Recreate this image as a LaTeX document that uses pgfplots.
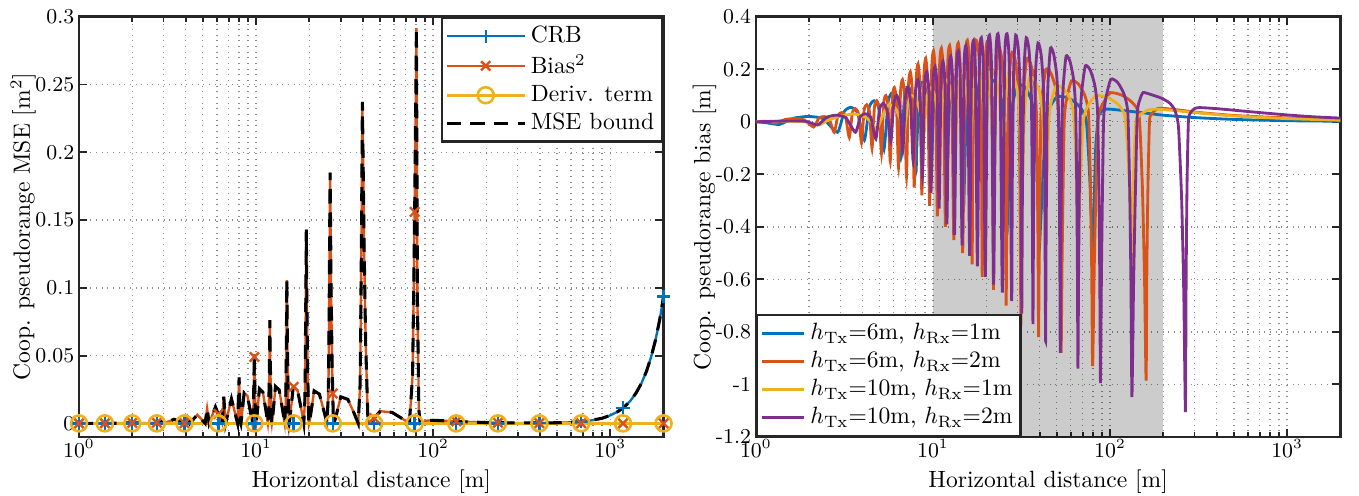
\documentclass[border=0pt]{standalone}
\usepackage{pgfplots}
\usepackage{pgfplotstable}
\pgfplotsset{compat=1.18}

\definecolor{mblue}{rgb}{0,0.447,0.741}
\definecolor{mred}{rgb}{0.85,0.325,0.098}
\definecolor{myellow}{rgb}{0.929,0.694,0.125}
\definecolor{mpurple}{rgb}{0.494,0.184,0.556}
\definecolor{axgray}{rgb}{0.15,0.15,0.15}

% ---------- left panel: MSE terms for hTx=6m, hRx=1m ----------
\pgfplotstableread{
d b2 mse
1 0 0
1.15 0 0
1.36 0.0001 0.0001
1.489 0 0
1.982 0.0004 0.0004
2.680 0 0
2.89 0.0016 0.0016
3.014 0 0
3.442 0.003 0.003
3.959 0 0
4.10 0.0049 0.0049
4.227 0 0
4.657 0.0064 0.0064
5.157 0 0
5.29 0.011 0.011
5.429 0 0
5.896 0.0121 0.0121
6.429 0 0
6.57 0.0196 0.0196
6.729 0 0
7.259 0.0182 0.0182
7.862 0 0
8.02 0.0339 0.0339
8.067 0.019 0.019
8.115 0.0085 0.0085
8.180 0.0008 0.0008
8.21 0 0
8.294 0.0046 0.0046
8.560 0.0225 0.0225
8.940 0.0203 0.0203
9.299 0.0081 0.0081
9.522 0.0001 0.0001
9.636 0.0062 0.0062
9.713 0.0289 0.0289
9.77 0.0511 0.0511
9.830 0.0289 0.0289
9.889 0.0128 0.0128
9.969 0.0012 0.0012
10.0 0 0
10.112 0.0052 0.0052
10.444 0.0256 0.0256
10.920 0.0231 0.0231
11.370 0.0092 0.0092
11.650 0.0001 0.0001
11.792 0.0094 0.0094
11.888 0.0428 0.0428
11.96 0.0762 0.0762
12.04 0.0428 0.0428
12.12 0.019 0.019
12.23 0.0017 0.0017
12.27 0 0
12.42 0.0055 0.0055
12.87 0.0272 0.0272
13.51 0.0246 0.0246
14.12 0.0098 0.0098
14.50 0.0001 0.0001
14.69 0.013 0.013
14.82 0.0595 0.0595
14.92 0.1056 0.1056
15.03 0.0595 0.0595
15.15 0.0264 0.0264
15.30 0.0024 0.0024
15.36 0 0
15.58 0.0055 0.0055
16.22 0.0272 0.0272
17.14 0.0246 0.0246
18.03 0.0098 0.0098
18.59 0.0001 0.0001
18.87 0.0174 0.0174
19.06 0.0804 0.0804
19.21 0.1429 0.1429
19.39 0.0804 0.0804
19.57 0.0357 0.0357
19.81 0.0032 0.0032
19.9 0 0
20.25 0.0049 0.0049
21.27 0.024 0.024
22.77 0.0216 0.0216
24.22 0.0086 0.0086
25.14 0.0001 0.0001
25.61 0.0225 0.0225
25.93 0.104 0.104
26.17 0.1849 0.1849
26.50 0.104 0.104
26.84 0.0462 0.0462
27.29 0.0042 0.0042
27.45 0 0
28.11 0.004 0.004
30.07 0.0196 0.0196
32.98 0.0177 0.0177
35.87 0.0071 0.0071
37.73 0 0
38.69 0.0289 0.0289
39.35 0.1332 0.1332
39.85 0.2372 0.2372
40.70 0.1332 0.1332
41.56 0.0593 0.0593
42.75 0.0053 0.0053
43.3 0 0
44.90 0.0018 0.0018
50.24 0.009 0.009
58.62 0.0081 0.0081
67.46 0.0032 0.0032
73.39 0 0
76.55 0.0357 0.0357
78.73 0.164 0.164
80.4 0.2916 0.2916
81.5 0.09 0.09
83 0.01 0.01
84.5 0 0
86 0.0004 0.0004
92 0.002 0.002
100 0.0023 0.0023
150 0.0012 0.0012
200 0.0006 0.0006
300 0.0003 0.00035
400 0.0002 0.00035
500 0.0001 0.00047
600 0.0001 0.0009
700 0.0001 0.0015
800 0.0001 0.0025
900 0 0.0038
1000 0 0.0059
1100 0 0.0086
1200 0 0.0121
1300 0 0.0167
1400 0 0.0225
1500 0 0.0296
1600 0 0.0383
1700 0 0.0489
1800 0 0.0614
1900 0 0.0762
2000 0 0.0936
}\lefttab

\pgfplotstableread{
d crb
1 0
200 0
300 0.00005
400 0.00015
500 0.00037
600 0.0008
700 0.0014
800 0.0024
900 0.0038
1000 0.0059
1100 0.0086
1200 0.0121
1300 0.0167
1400 0.0225
1500 0.0296
1600 0.0383
1700 0.0489
1800 0.0614
1900 0.0762
2000 0.0936
}\crbtab

\pgfplotstableread{
d crb b2 dv
1 0 0 0
1.4 0 0.0001 0
2 0 0.0004 0
2.75 0 0.0005 0
3.94 0 0.0001 0
6.12 0 0.007 0
9.78 0 0.049 0
16.3 0 0.027 0
27.1 0 0.022 0
46.4 0 0.004 0
78.6 0 0.156 0
135 0 0.0015 0
232 0 0.0005 0
398 0.0001 0.0002 0
686 0.0013 0.0001 0
1180 0.0114 0 0
2000 0.0936 0 0
}\marktab

% ---------- right panel: bias for four height pairs ----------
\pgfplotstableread{
d v
1 0
1.15 -0.004
1.36 -0.01
1.642 0.014
1.982 0.02
2.394 0.012
2.89 -0.04
3.154 0.0385
3.442 0.055
3.757 0.033
4.10 -0.07
4.370 0.056
4.657 0.08
4.963 0.048
5.29 -0.105
5.585 0.077
5.896 0.11
6.224 0.066
6.57 -0.14
6.906 0.0945
7.259 0.135
7.630 0.081
8.02 -0.184
8.067 -0.138
8.115 -0.092
8.180 -0.028
8.294 0.0675
8.560 0.15
8.940 0.1425
9.299 0.09
9.522 0.0075
9.636 -0.079
9.713 -0.17
9.77 -0.226
9.830 -0.17
9.889 -0.113
9.969 -0.034
10.112 0.072
10.444 0.16
10.920 0.152
11.370 0.096
11.650 0.008
11.792 -0.097
11.888 -0.207
11.96 -0.276
12.04 -0.207
12.12 -0.138
12.23 -0.041
12.42 0.074
12.87 0.165
13.51 0.157
14.12 0.099
14.50 0.008
14.69 -0.114
14.82 -0.244
14.92 -0.325
15.03 -0.244
15.15 -0.1625
15.30 -0.049
15.58 0.074
16.22 0.165
17.14 0.157
18.03 0.099
18.59 0.008
18.87 -0.132
19.06 -0.2835
19.21 -0.378
19.39 -0.2835
19.57 -0.189
19.81 -0.057
20.25 0.07
21.27 0.155
22.77 0.147
24.22 0.093
25.14 0.008
25.61 -0.15
25.93 -0.3225
26.17 -0.43
26.50 -0.3225
26.84 -0.215
27.29 -0.0645
28.11 0.063
30.07 0.14
32.98 0.133
35.87 0.084
37.73 0.007
38.69 -0.17
39.35 -0.365
39.85 -0.487
40.70 -0.365
41.56 -0.2435
42.75 -0.073
44.90 0.043
50.24 0.095
58.62 0.09
67.46 0.057
73.39 0.005
76.55 -0.189
78.73 -0.405
80.4 -0.54
81.5 -0.3
83 -0.1
86 0.02
92 0.045
100 0.048
150 0.035
200 0.025
300 0.016
500 0.009
1000 0.004
2000 0.002
}\biasA

\pgfplotstableread{
d v
1 0
1.15 0.002
1.29 -0.005
1.461 0.0084
1.654 0.012
1.872 0.0072
2.12 -0.02
2.267 0.014
2.423 0.02
2.591 0.012
2.77 -0.04
2.909 0.0245
3.055 0.035
3.209 0.021
3.37 -0.06
3.506 0.035
3.648 0.05
3.796 0.03
3.95 -0.08
4.088 0.0455
4.230 0.065
4.377 0.039
4.53 -0.10
4.671 0.056
4.816 0.08
4.965 0.048
5.12 -0.12
5.268 0.07
5.421 0.10
5.578 0.06
5.74 -0.15
5.896 0.091
6.056 0.13
6.220 0.078
6.39 -0.175
6.558 0.112
6.731 0.16
6.908 0.096
7.09 -0.21
7.271 0.133
7.456 0.19
7.646 0.114
7.84 -0.25
8.038 0.154
8.240 0.22
8.448 0.132
8.66 -0.28
8.881 0.168
9.109 0.24
9.341 0.144
9.58 -0.32
9.825 0.189
10.077 0.27
10.336 0.162
10.60 -0.36
10.881 0.196
11.169 0.28
11.466 0.168
11.77 -0.40
12.094 0.203
12.427 0.29
12.769 0.174
13.12 -0.45
13.503 0.21
13.897 0.30
14.303 0.18
14.72 -0.50
15.176 0.217
15.646 0.31
16.130 0.186
16.63 -0.54
16.763 -0.189
17.076 0.186
17.533 0.31
18.122 0.2635
18.609 0.1085
18.830 -0.2065
18.98 -0.59
19.147 -0.2065
19.544 0.18
20.124 0.30
20.874 0.255
21.495 0.105
21.778 -0.224
21.97 -0.64
22.188 -0.224
22.706 0.171
23.468 0.285
24.455 0.242
25.277 0.10
25.654 -0.245
25.91 -0.70
26.208 -0.245
26.920 0.159
27.970 0.265
29.340 0.225
30.483 0.093
31.012 -0.266
31.37 -0.76
31.587 -0.456
31.806 -0.228
32.101 0.012
32.624 0.132
33.849 0.24
35.611 0.221
37.289 0.156
38.334 0.048
38.870 -0.205
39.228 -0.492
39.5 -0.82
39.848 -0.492
40.20 -0.246
40.677 0.01
41.518 0.11
43.513 0.20
46.41 0.184
49.22 0.13
50.98 0.04
51.88 -0.22
52.49 -0.528
52.96 -0.88
53.62 -0.528
54.28 -0.264
55.17 0.008
56.78 0.086
60.62 0.156
66.34 0.1435
72.0 0.101
75.62 0.031
77.50 -0.2325
78.78 -0.558
79.75 -0.93
81.43 -0.558
83.15 -0.279
85.49 0.0055
89.76 0.0605
100.32 0.11
116.90 0.101
134.34 0.0715
146.03 0.022
152.24 -0.246
156.54 -0.591
159.85 -0.985
161.5 -0.55
163.5 -0.27
167 0.0
172 0.03
185 0.05
200 0.051
250 0.044
320 0.035
500 0.024
760 0.018
1200 0.013
2000 0.0095
}\biasB

\pgfplotstableread{
d v
1 0
1.5 0.002
1.9 0.0
2.27 -0.012
2.541 0.005
2.955 0.02
3.566 0.03
4.146 0.018
4.538 -0.005
4.82 -0.03
5.168 0.02
5.638 0.065
6.152 0.05
6.550 0.005
6.83 -0.09
6.934 -0.0315
7.184 0.06
7.555 0.10
8.047 0.085
8.464 0.035
8.658 -0.0525
8.79 -0.15
8.905 -0.0525
9.178 0.078
9.584 0.13
10.116 0.1105
10.563 0.0455
10.769 -0.07
10.91 -0.20
11.041 -0.07
11.353 0.096
11.813 0.16
12.414 0.136
12.918 0.056
13.152 -0.0875
13.31 -0.25
13.467 -0.0875
13.842 0.108
14.395 0.18
15.118 0.153
15.722 0.063
16.0 -0.1015
16.19 -0.29
16.388 -0.1015
16.859 0.114
17.555 0.19
18.465 0.1615
19.229 0.0665
19.582 -0.1155
19.82 -0.33
19.951 -0.198
20.084 -0.099
20.262 0.01
20.575 0.107
21.312 0.195
22.371 0.179
23.378 0.127
24.004 0.039
24.323 -0.0925
24.537 -0.222
24.70 -0.37
24.888 -0.222
25.076 -0.111
25.330 0.0095
25.782 0.1045
26.842 0.19
28.373 0.175
29.838 0.1235
30.754 0.038
31.223 -0.1025
31.539 -0.246
31.78 -0.41
32.076 -0.246
32.374 -0.123
32.778 0.0085
33.496 0.0935
35.193 0.17
37.669 0.156
40.071 0.1105
41.584 0.034
42.366 -0.115
42.890 -0.276
43.29 -0.46
43.84 -0.276
44.39 -0.138
45.15 0.007
46.49 0.075
49.73 0.137
54.55 0.126
59.33 0.089
62.40 0.027
63.99 -0.125
65.07 -0.30
65.90 -0.50
67.30 -0.30
68.73 -0.15
70.69 0.005
74.25 0.055
83.07 0.10
96.95 0.092
111.56 0.065
121.36 0.02
126.59 -0.14
130.19 -0.336
132.95 -0.56
134.5 -0.32
136.5 -0.15
140 0.0
150 0.03
165 0.045
183 0.048
220 0.044
300 0.035
500 0.022
1000 0.012
2000 0.006
}\biasC

\pgfplotstableread{
d v
1 0
1.5 0.003
1.9 0.002
2.23 -0.012
2.522 0.0175
2.853 0.025
3.227 0.015
3.65 -0.04
3.901 0.021
4.168 0.03
4.454 0.018
4.76 -0.065
4.997 0.049
5.245 0.07
5.506 0.042
5.78 -0.075
6.011 0.07
6.251 0.10
6.501 0.06
6.76 -0.11
6.991 0.091
7.229 0.13
7.475 0.078
7.73 -0.15
7.967 0.112
8.210 0.16
8.461 0.096
8.72 -0.21
8.967 0.133
9.221 0.19
9.481 0.114
9.75 -0.27
10.009 0.147
10.277 0.21
10.550 0.126
10.83 -0.33
11.109 0.161
11.395 0.23
11.689 0.138
11.99 -0.39
12.291 0.175
12.600 0.25
12.916 0.15
13.24 -0.43
13.570 0.189
13.909 0.27
14.256 0.162
14.61 -0.47
14.974 0.203
15.346 0.29
15.729 0.174
16.12 -0.51
16.531 0.217
16.953 0.31
17.385 0.186
17.83 -0.55
18.294 0.224
18.770 0.32
19.260 0.192
19.76 -0.59
20.30 0.231
20.855 0.33
21.426 0.198
22.01 -0.62
22.642 0.2345
23.291 0.335
23.960 0.201
24.65 -0.65
25.409 0.2345
26.191 0.335
26.999 0.201
27.83 -0.68
28.05 -0.238
28.573 0.198
29.333 0.33
30.312 0.2805
31.122 0.1155
31.492 -0.2555
31.74 -0.73
32.019 -0.2555
32.677 0.192
33.641 0.32
34.889 0.272
35.920 0.112
36.393 -0.2695
36.71 -0.77
37.073 -0.2695
37.936 0.18
39.203 0.30
40.843 0.255
42.209 0.105
42.833 -0.292
43.26 -0.835
43.51 -0.501
43.76 -0.2505
44.09 0.014
44.69 0.154
46.07 0.28
48.04 0.258
49.91 0.182
51.07 0.056
51.66 -0.22
52.05 -0.528
52.35 -0.88
52.71 -0.528
53.08 -0.264
53.57 0.0125
54.44 0.1375
56.48 0.25
59.41 0.23
62.21 0.1625
63.95 0.05
64.84 -0.235
65.43 -0.564
65.89 -0.94
66.47 -0.564
67.06 -0.282
67.85 0.011
69.25 0.117
72.57 0.213
77.40 0.196
82.07 0.138
85.0 0.043
86.50 -0.249
87.52 -0.597
88.30 -0.995
89.39 -0.597
90.50 -0.2985
91.99 0.008
94.66 0.089
101.06 0.162
110.58 0.149
120.01 0.105
126.05 0.032
129.18 -0.262
131.31 -0.629
132.94 -1.048
135.75 -0.629
138.60 -0.314
142.51 0.03
147.56 0.085
153.85 0.111
169.58 0.104
194.89 0.09
216.33 0.072
231.90 0.045
243.47 -0.02
253.85 -0.3
261.0 -0.663
266.5 -1.105
269 -0.6
272 -0.25
277 0.0
285 0.035
300 0.05
320 0.054
400 0.05
500 0.044
700 0.035
1000 0.026
1400 0.019
2000 0.014
}\biasD

\begin{document}
\begin{tikzpicture}
\begin{axis}[
  scale only axis, width=248.3pt, height=178.5pt,
  xmode=log, xmin=1, xmax=2000,
  grid=both,
  major grid style={dotted, black!45, line width=0.6pt},
  minor grid style={dotted, black!45, line width=0.6pt},
  axis line style={line width=1.1pt, axgray},
  tick style={axgray, line width=0.8pt},
  major tick length=3.5pt, minor tick length=2.2pt,
  tick label style={font=\small},
  xticklabel style={yshift=2.5pt},
  xlabel={Horizontal distance [m]},
  xlabel shift=-1.5pt,
  ylabel shift=-7pt,
  ymin=-0.01, ymax=0.3,
  ytick={0,0.05,0.1,0.15,0.2,0.25,0.3},
  yticklabels={0,0.05,0.1,0.15,0.2,0.25,0.3},
  yticklabel style={xshift=1.5pt},
  ylabel={Coop. pseudorange MSE [m$^2$]},
  legend cell align=left,
  legend style={at={(1,1)}, anchor=north east, draw=axgray, line width=1pt,
    font=\normalsize, inner sep=1.5pt, row sep=-0.5pt},
  legend image code/.code={\draw[mark repeat=2,mark phase=2] plot coordinates {(0pt,0pt) (16.5pt,0pt) (33pt,0pt)};},
]
\addlegendimage{mblue, line width=1pt, mark=+, mark size=2.8pt}
\addlegendimage{mred, line width=1pt, mark=x, mark size=2.8pt}
\addlegendimage{myellow, line width=1.1pt, mark=o, mark size=3.4pt}
\addlegendimage{black, line width=1.3pt, dash pattern=on 6pt off 4pt}
\addplot[mblue, line width=1pt, forget plot] table[x=d, y=crb] {\crbtab};
\addplot[mblue, only marks, mark=+, mark size=2.8pt, line width=1pt, forget plot] table[x=d, y=crb] {\marktab};
\addplot[mred, line width=1pt, forget plot] table[x=d, y=b2] {\lefttab};
\addplot[mred, only marks, mark=x, mark size=2.8pt, line width=1pt, forget plot] table[x=d, y=b2] {\marktab};
\addplot[myellow, line width=1.1pt, forget plot] coordinates {(1,0) (2000,0)};
\addplot[myellow, only marks, mark=o, mark size=3.4pt, line width=1.1pt, forget plot] table[x=d, y=dv] {\marktab};
\addplot[black, line width=1.3pt, dash pattern=on 6pt off 4pt, forget plot] table[x=d, y=mse] {\lefttab};
\legend{CRB, Bias$^2$, Deriv. term, MSE bound}
\end{axis}

\begin{axis}[
  at={(287.5pt,0pt)},
  scale only axis, width=248.3pt, height=178.5pt,
  xmode=log, xmin=1, xmax=2000,
  grid=both,
  major grid style={dotted, black!45, line width=0.6pt},
  minor grid style={dotted, black!45, line width=0.6pt},
  axis line style={line width=1.1pt, axgray},
  tick style={axgray, line width=0.8pt},
  major tick length=3.5pt, minor tick length=2.2pt,
  tick label style={font=\small},
  xticklabel style={yshift=2.5pt},
  xlabel={Horizontal distance [m]},
  xlabel shift=-1.5pt,
  ylabel shift=-7pt,
  ymin=-1.2, ymax=0.4,
  ytick={-1.2,-1,-0.8,-0.6,-0.4,-0.2,0,0.2,0.4},
  yticklabels={-1.2,-1,-0.8,-0.6,-0.4,-0.2,0,0.2,0.4},
  yticklabel style={xshift=1.5pt},
  ylabel={Coop. pseudorange bias [m]},
  legend cell align=left,
  legend style={at={(0,0)}, anchor=south west, draw=axgray, line width=1pt,
    font=\normalsize, inner sep=1.5pt, row sep=-0.5pt},
  legend image code/.code={\draw plot coordinates {(0pt,0pt) (18pt,0pt)};},
]
\addplot[draw=none, fill=black, fill opacity=0.2, forget plot] coordinates {(10,-1.2) (10,0.4) (200,0.4) (200,-1.2)};
\addplot[mblue, line width=1.2pt, smooth, tension=0.35] table[x=d, y=v] {\biasA};
\addplot[mred, line width=1.2pt, smooth, tension=0.35] table[x=d, y=v] {\biasB};
\addplot[myellow, line width=1.2pt, smooth, tension=0.35] table[x=d, y=v] {\biasC};
\addplot[mpurple, line width=1.2pt, smooth, tension=0.35] table[x=d, y=v] {\biasD};
\legend{$h_{\mathrm{Tx}}$=6m{,} $h_{\mathrm{Rx}}$=1m,
        $h_{\mathrm{Tx}}$=6m{,} $h_{\mathrm{Rx}}$=2m,
        $h_{\mathrm{Tx}}$=10m{,} $h_{\mathrm{Rx}}$=1m,
        $h_{\mathrm{Tx}}$=10m{,} $h_{\mathrm{Rx}}$=2m}
\end{axis}

\pgfresetboundingbox
\path[use as bounding box] (-33.56pt,-25.06pt) rectangle (543.7pt,185.6pt);
\end{tikzpicture}
\end{document}
